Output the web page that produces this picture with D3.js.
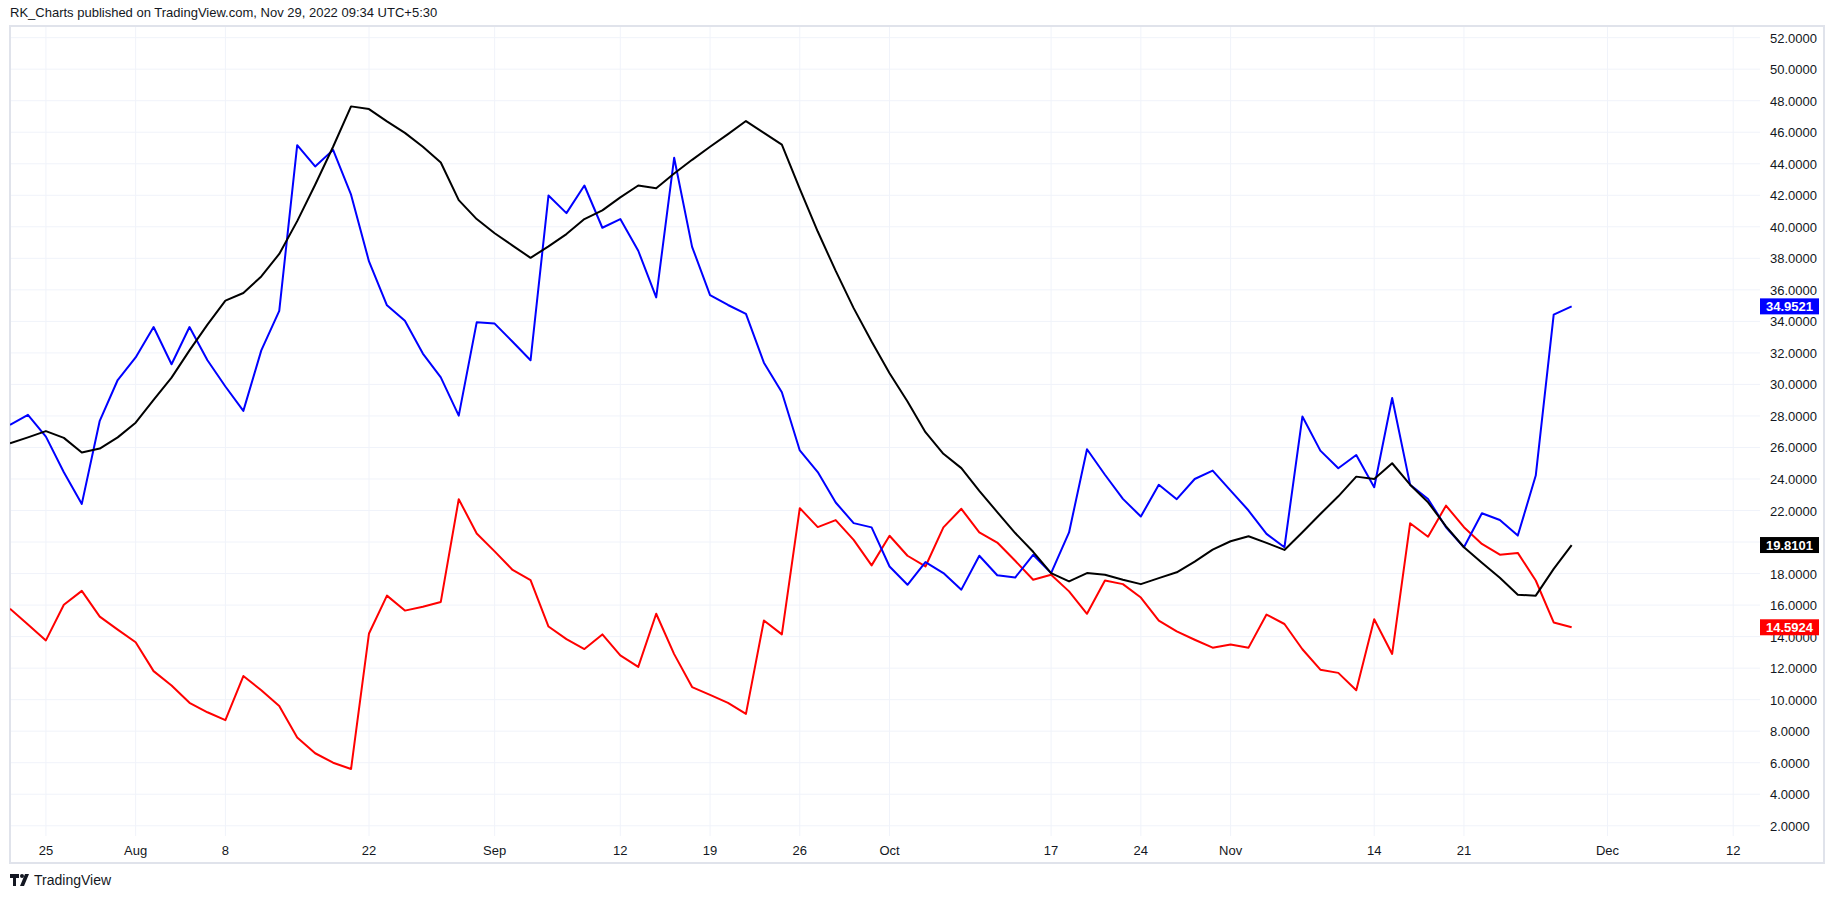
<!DOCTYPE html>
<html lang="en">
<head>
<meta charset="UTF-8" />
<title>RK_Charts</title>
<style>
  body { margin: 0; background: #fff; }
  svg text { font-family: "Liberation Sans", Arial, sans-serif; }
</style>
</head>
<body>
<svg id="chart" width="1834" height="899"></svg>
<script src="https://d3js.org/d3.v7.min.js"></script>
<script>
// one value per trading day, Jul 21 .. Nov 29 2022
const blueSeries = [27.44,28.07,26.69,24.43,22.42,27.69,30.28,31.71,33.64,31.28,33.64,31.53,29.87,28.32,32.16,34.67,45.18,43.83,44.88,42.04,37.80,35.02,34.04,31.96,30.45,28.02,33.94,33.86,32.71,31.53,41.99,40.87,42.62,39.94,40.49,38.48,35.52,44.38,38.73,35.67,35.04,34.47,31.38,29.50,25.81,24.44,22.51,21.20,20.93,18.45,17.29,18.73,18.03,16.98,19.13,17.89,17.75,19.19,18.03,20.61,25.89,24.27,22.74,21.62,23.63,22.72,24.0,24.53,23.26,22.0,20.52,19.67,27.96,25.80,24.68,25.52,23.48,29.14,23.64,22.73,20.94,19.67,21.83,21.40,20.41,24.22,34.43,34.9521];
const blackSeries = [26.26,26.64,27.04,26.61,25.68,25.93,26.64,27.57,29.02,30.43,32.16,33.79,35.32,35.80,36.85,38.28,40.36,42.67,45.08,47.64,47.47,46.69,45.96,45.08,44.08,41.69,40.49,39.59,38.81,38.03,38.76,39.54,40.49,41.04,41.87,42.62,42.45,43.38,44.25,45.08,45.88,46.71,45.96,45.21,42.4,39.7,37.2,34.84,32.72,30.71,28.92,26.97,25.60,24.69,23.25,21.90,20.57,19.38,18.03,17.50,18.03,17.92,17.61,17.33,17.71,18.08,18.76,19.52,20.05,20.37,19.95,19.50,20.62,21.78,22.90,24.15,24.0,25.0,23.64,22.52,21.0,19.67,18.68,17.73,16.65,16.60,18.30,19.8101];
const redSeries = [15.77,14.77,13.76,16.02,16.90,15.27,14.44,13.64,11.81,10.9,9.8,9.2,8.7,11.5,10.6,9.6,7.6,6.6,6.0,5.6,14.2,16.6,15.65,15.90,16.20,22.72,20.54,19.41,18.23,17.58,14.64,13.84,13.21,14.14,12.81,12.08,15.45,12.89,10.8,10.3,9.8,9.1,15.02,14.14,22.15,20.95,21.39,20.14,18.52,20.40,19.13,18.45,20.93,22.11,20.61,19.97,18.81,17.61,17.92,16.87,15.45,17.56,17.33,16.48,15.01,14.33,13.8,13.3,13.5,13.3,15.4,14.8,13.2,11.9,11.7,10.6,15.1,12.9,21.19,20.34,22.31,20.94,19.88,19.20,19.31,17.56,14.9,14.5924];

const timeLabels = ["25","Aug","8","22","Sep","12","19","26","Oct","17","24","Nov","14","21","Dec","12"];
const timeIndex = [2,7,12,20,27,34,39,44,49,58,63,68,76,81,89,96];
const priceTicks = d3.range(2, 53, 2);

const svg = d3.select("#chart");
const plotL = 10, plotT = 26, plotR = 1760, plotB = 836;

const x = d3.scaleLinear().domain([0, 87]).range([10, 10 + 87 * 17.95]);
const y = d3.scaleLinear().domain([1.35, 52.74]).range([plotB, plotT]);

svg.append("text").attr("x", 10).attr("y", 17)
  .attr("font-size", 13).attr("fill", "#131722")
  .text("RK_Charts published on TradingView.com, Nov 29, 2022 09:34 UTC+5:30");

// grid
const grid = svg.append("g");
grid.selectAll(".hg").data(priceTicks).enter().append("line")
  .attr("x1", plotL).attr("x2", plotR)
  .attr("y1", d => y(d)).attr("y2", d => y(d))
  .attr("stroke", "#f0f3fa").attr("stroke-width", 1);
grid.selectAll(".vg").data(timeIndex).enter().append("line")
  .attr("x1", d => x(d)).attr("x2", d => x(d))
  .attr("y1", plotT).attr("y2", plotB)
  .attr("stroke", "#f0f3fa").attr("stroke-width", 1);

// frame
svg.append("rect").attr("x", plotL).attr("y", plotT)
  .attr("width", 1824 - plotL).attr("height", 863 - plotT)
  .attr("fill", "none").attr("stroke", "#e0e3eb").attr("stroke-width", 2);

svg.append("clipPath").attr("id", "plotclip").append("rect")
  .attr("x", plotL).attr("y", plotT).attr("width", plotR - plotL).attr("height", plotB - plotT);

const line = d3.line().x((d, i) => x(i)).y(d => y(d));
const lines = svg.append("g").attr("clip-path", "url(#plotclip)");
[[redSeries, "#ff0000"], [blueSeries, "#0000ff"], [blackSeries, "#000000"]].forEach(([s, c]) => {
  lines.append("path").datum(s).attr("d", line)
    .attr("fill", "none").attr("stroke", c).attr("stroke-width", 2)
    .attr("stroke-linejoin", "round");
});

// price axis
svg.append("g").selectAll("text").data(priceTicks).enter().append("text")
  .attr("x", 1770).attr("y", d => y(d) + 5)
  .attr("font-size", 13).attr("fill", "#131722")
  .text(d => d3.format(".4f")(d));

// time axis
svg.append("g").selectAll("text").data(timeLabels).enter().append("text")
  .attr("x", (d, i) => x(timeIndex[i])).attr("y", 855)
  .attr("text-anchor", "middle").attr("font-size", 13).attr("fill", "#131722")
  .text(d => d);

// last value tags
const tags = [[blueSeries, "#0000ff"], [blackSeries, "#000000"], [redSeries, "#ff0000"]];
tags.forEach(([s, c]) => {
  const v = s[s.length - 1];
  const g = svg.append("g").attr("transform", `translate(1760,${y(v)})`);
  g.append("rect").attr("x", 0).attr("y", -8).attr("width", 59).attr("height", 16).attr("fill", c);
  g.append("text").attr("x", 29.5).attr("y", 5).attr("text-anchor", "middle")
    .attr("font-size", 13).attr("font-weight", "bold").attr("fill", "#fff")
    .text(d3.format(".4f")(v));
});

// footer logo
const logo = svg.append("g").attr("transform", "translate(10,872)");
logo.append("path").attr("d", "M0 2h9v4H6v8H3V6H0z M10 14l5-12h4l-5 12z").attr("fill", "#131722");
logo.append("circle").attr("cx", 12).attr("cy", 4).attr("r", 2).attr("fill", "#131722");
logo.append("text").attr("x", 24).attr("y", 13).attr("font-size", 14).attr("fill", "#131722").text("TradingView");
</script>
</body>
</html>
